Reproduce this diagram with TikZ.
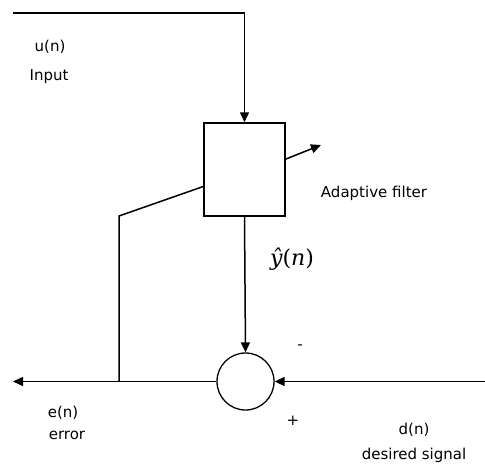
\documentclass[tikz,border=0pt]{standalone}
\usepackage{fontspec}
\setmainfont{DejaVu Sans}
\newfontfamily\yfont{DejaVu Serif}
\usetikzlibrary{arrows.meta, positioning, calc}

\begin{document}
\begin{tikzpicture}[
    x=1pt, y=-1pt,
    every node/.style={font=\fontsize{15}{17}\selectfont},
    block/.style={draw, rectangle, minimum width=81pt, minimum height=93pt, line width=1.5pt},
    adder/.style={draw, circle, minimum size=57pt, inner sep=0pt, line width=1.3pt},
    signal/.style={-{Triangle[length=10pt, width=9pt]}, line width=1.5pt},
    wire/.style={line width=1.5pt}
    ]
    \useasboundingbox (0,0) rectangle (485,466);
    \node[block] (filter) at (244.5,169.5) {};
    \node[adder] (sum) at (245.5,381.5) {};
    \coordinate (uin) at (13,13);
    \coordinate (din) at (485,381.5);
    \coordinate (eout) at (13,381.5);
    \coordinate (tap) at (119,381.5);
    \coordinate (bend) at (119,216);
    \coordinate (adapt) at (321,145);
    % input and desired signal
    \draw[signal] (uin) -| (filter.north);
    \draw[signal] (din) -- (sum.east);
    \draw[signal] (filter.south) -- (sum.north);
    \draw[signal] (sum.west) -- (eout);
    % error fed back to the filter
    \draw[wire] (tap) -- (bend) -- ($(filter.north west)!0.68!(filter.south west)$);
    \draw[signal] ($(filter.north east)!0.39!(filter.south east)$) -- (adapt);
    % labels
    \node (ulabel) at (50,47) {u(n)};
    \node (inlabel) at (49,77) {Input};
    \node (flabel) at (374,193) {Adaptive filter};
    \node[font=\yfont\fontsize{22}{24}\selectfont] (ylabel) at (292,259) {\textit{ŷ}(\textit{n})};
    \node (minus) at (300,347) {-};
    \node (plus) at (293,421) {+};
    \node (elabel) at (63,413) {e(n)};
    \node (errlabel) at (67,435) {error};
    \node (dlabel) at (414,430) {d(n)};
    \node (deslabel) at (414,455) {desired signal};
\end{tikzpicture}
\end{document}
